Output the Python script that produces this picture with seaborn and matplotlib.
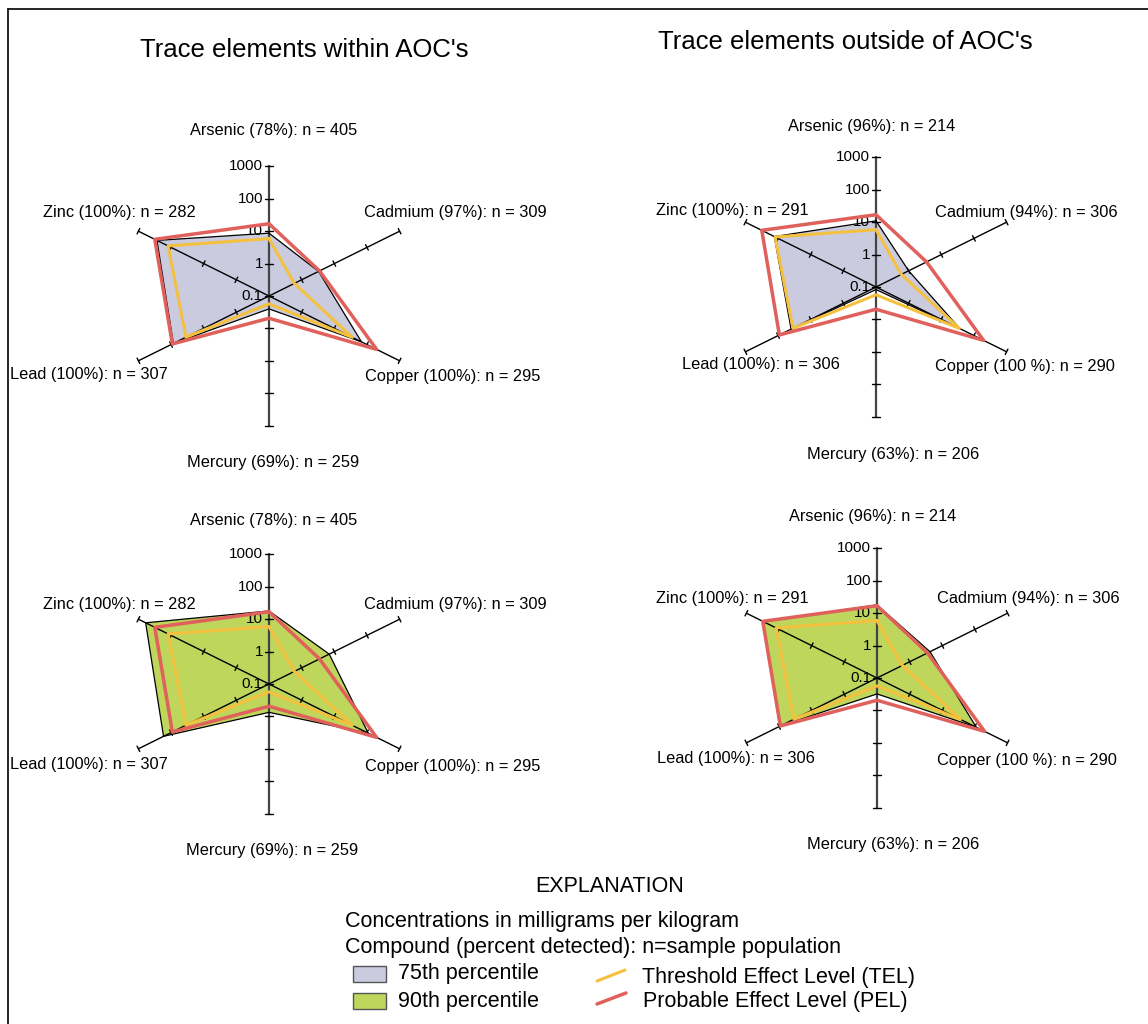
import numpy as np
import matplotlib
matplotlib.use("Agg")
import matplotlib.pyplot as plt
import seaborn as sns
from matplotlib.patches import Rectangle

sns.set_theme(style="white")
plt.rcParams["font.family"] = ["Liberation Sans", "DejaVu Sans"]
plt.rcParams["text.color"] = "black"

# Data (mg/kg), spokes in clockwise order from the top
elements = ["Arsenic", "Cadmium", "Copper", "Mercury", "Lead", "Zinc"]
tel = [5.9, 0.596, 35.7, 0.174, 35.0, 123.0]
pel = [17.0, 3.53, 197.0, 0.486, 91.3, 315.0]

within_p75 = [8.7, 3.3, 68.0, 0.25, 85.0, 270.0]
within_p90 = [18.0, 7.0, 110.0, 0.75, 170.0, 600.0]
outside_p75 = [11.0, 1.0, 37.0, 0.12, 40.0, 130.0]
outside_p90 = [18.0, 4.2, 110.0, 0.31, 95.0, 310.0]

within_pct = ["78%", "97%", "100%", "69%", "100%", "100%"]
within_n = [405, 309, 295, 259, 307, 282]
outside_pct = ["96%", "94%", "100 %", "63%", "100%", "100%"]
outside_n = [214, 306, 290, 206, 306, 291]

tick_labels = ["0.1", "1", "10", "100", "1000"]

# layout
W, H = 1148, 1024
PX, PY = 37.7, 32.4          # pixels per decade (x, y)
angles = np.deg2rad([90, 30, -30, -90, -150, 150])
lavender = "#cbcbe0"
green = "#bdd65b"
yellow = "#f4c13f"
red = "#e0605b"

fig = plt.figure(figsize=(W / 100, H / 100), dpi=100)
bg = fig.add_axes([0, 0, 1, 1])
bg.set_xlim(0, W)
bg.set_ylim(H, 0)
bg.axis("off")


def radar(cx, cy, p_vals, fill, pct, n, label_pos):
    ax = fig.add_axes([(cx - 280) / W, (H - cy - 230) / H, 560 / W, 460 / H])
    ax.set_xlim(-280 / PX, 280 / PX)
    ax.set_ylim(-230 / PY, 230 / PY)
    ax.axis("off")

    def xy(vals):
        r = np.log10(np.asarray(vals, dtype=float)) + 1
        x = r * np.cos(angles)
        y = r * np.sin(angles)
        return np.append(x, x[0]), np.append(y, y[0])

    px, py = xy(p_vals)
    ax.fill(px, py, facecolor=fill, edgecolor="none", zorder=1)

    # spokes
    ax.plot([0, 0], [-4, 4], color="#444444", lw=1.6, zorder=2)
    for a in np.deg2rad([30, -30]):
        ax.plot([-4 * np.cos(a), 4 * np.cos(a)], [-4 * np.sin(a), 4 * np.sin(a)],
                color="black", lw=1.0, zorder=2)
    # tick marks
    for a in angles:
        dx, dy = np.cos(a) * PX, np.sin(a) * PY
        L = np.hypot(dx, dy)
        nx, ny = -dy / L, dx / L
        for r in range(1, 5):
            x0, y0 = r * np.cos(a), r * np.sin(a)
            hl = 4 if abs(np.cos(a)) < 1e-6 else 3
            ax.plot([x0 - nx * hl / PX, x0 + nx * hl / PX],
                    [y0 - ny * hl / PY, y0 + ny * hl / PY],
                    color="black", lw=1.0, zorder=2)
    ax.plot([-4 / PX, 4 / PX], [0, 0], color="black", lw=1.0, zorder=2)
    for r, t in enumerate(tick_labels):
        ax.text(-6 / PX, r, t, ha="right", va="center", fontsize=11, zorder=1.5)

    ax.plot(px, py, color="black", lw=0.9, zorder=3)
    tx, ty = xy(tel)
    sns.lineplot(x=tx, y=ty, sort=False, estimator=None, color=yellow, lw=2.2, ax=ax, zorder=4)
    qx, qy = xy(pel)
    sns.lineplot(x=qx, y=qy, sort=False, estimator=None, color=red, lw=2.5, ax=ax, zorder=5)

    for el, p, k, (ox, oy, ha) in zip(elements, pct, n, label_pos):
        bg.text(cx + ox, cy + oy, f"{el} ({p}): n = {k}", ha=ha, va="center", fontsize=11.8)


pos_tl = [(5, -165, "center"), (95, -83, "left"), (96, 80, "left"),
          (4, 166, "center"), (-101, 78, "right"), (-73, -83, "right")]
pos_tr = [(-4, -160, "center"), (59, -75, "left"), (59, 79, "left"),
          (17, 168, "center"), (-36, 78, "right"), (-68, -76, "right")]
pos_bl = [(5, -163, "center"), (95, -80, "left"), (96, 83, "left"),
          (3, 167, "center"), (-101, 81, "right"), (-73, -80, "right")]
pos_br = [(-4, -161, "center"), (60, -80, "left"), (60, 82, "left"),
          (16, 167, "center"), (-62, 81, "right"), (-69, -80, "right")]

radar(269, 296, within_p75, lavender, within_pct, within_n, pos_tl)
radar(876, 287, outside_p75, lavender, outside_pct, outside_n, pos_tr)
radar(269, 684, within_p90, green, within_pct, within_n, pos_bl)
radar(877, 678, outside_p90, green, outside_pct, outside_n, pos_br)

bg.text(304, 50, "Trace elements within AOC's", ha="center", va="center", fontsize=18.5)
bg.text(845, 42, "Trace elements outside of AOC's", ha="center", va="center", fontsize=18.5)

# frame
bg.plot([8, 8], [9, H + 5], color="black", lw=1.2)
bg.plot([8, W + 5], [9, 9], color="black", lw=1.2)

# explanation
fs = 15.5
bg.text(610, 887, "EXPLANATION", ha="center", va="center", fontsize=fs)
bg.text(345, 922, "Concentrations in milligrams per kilogram", ha="left", va="center", fontsize=fs)
bg.text(345, 948, "Compound (percent detected): n=sample population", ha="left", va="center", fontsize=fs)
bg.add_patch(Rectangle((353, 966), 33, 16, facecolor=lavender, edgecolor="#555555", lw=1.0))
bg.text(398, 974, "75th percentile", ha="left", va="center", fontsize=fs)
bg.add_patch(Rectangle((353, 993), 33, 16, facecolor=green, edgecolor="#555555", lw=1.0))
bg.text(398, 1001, "90th percentile", ha="left", va="center", fontsize=fs)
bg.plot([597, 625], [981, 970], color=yellow, lw=2.2)
bg.text(642, 977, "Threshold Effect Level (TEL)", ha="left", va="center", fontsize=fs)
bg.plot([597, 626], [1004, 993], color=red, lw=2.5)
bg.text(643, 1002, "Probable Effect Level (PEL)", ha="left", va="center", fontsize=fs)

fig.savefig("out.png", dpi=100)
